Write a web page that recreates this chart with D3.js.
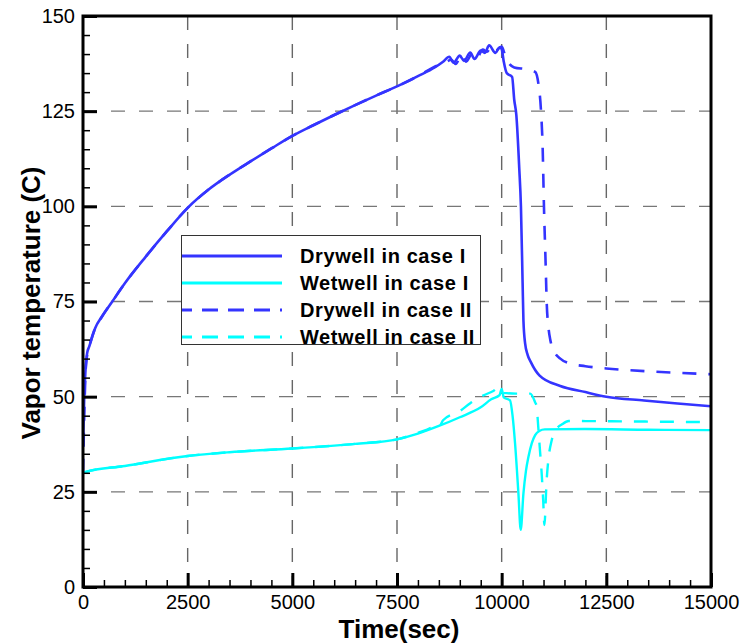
<!DOCTYPE html>
<meta charset="utf-8">
<script src="https://d3js.org/d3.v7.min.js"></script>
<style>
  body { margin: 0; background: #fff; }
  text { font-family: "Liberation Sans", Arial, sans-serif; }
</style>
<div id="chart"></div>
<script>

var width = 745, height = 644;
var margin = {top: 16, right: 34, bottom: 57, left: 83};

// Data: [time (sec), vapor temperature (C)]
var dryCase1 = [
  [0,37],[30,50],[60,57],[100,61.5],[150,63.2],[290,68],[450,71],[700,75],[1000,79.8],[1500,86.8],
  [2000,93.4],[2500,99.6],[3000,104.4],[3500,108.3],[4000,111.8],[4500,115.2],[5000,118.5],[5500,121.3],
  [6000,124],[6500,126.6],[7000,129.1],[7500,131.5],[8000,134.2],[8400,136.5],[8600,138],
  [8750,139.3],[8850,137.7],[9000,139.6],[9100,138.2],[9250,140.4],[9350,138.7],[9500,140.9],
  [9600,140.3],[9700,142.3],[9850,140.3],[9950,141.8],[10000,141.3],[10050,138],[10120,135],
  [10250,134],[10300,128],[10350,124],[10420,110],[10460,100],[10500,80],[10520,70],[10560,64],
  [10620,61],[10700,59],[10900,55.6],[11400,52.8],[12000,51.2],[12500,50],[13400,49],[14200,48.2],
  [15000,47.5]
];
var wetCase1 = [
  [0,30],[50,30.2],[1000,31.8],[2500,34.4],[3500,35.4],[5000,36.4],[6500,37.6],[7500,38.8],
  [8000,40.3],[8500,42.3],[9000,44.6],[9500,47.2],[9750,49.3],[9950,50.4],[10000,52],
  [10050,49.8],[10200,49],[10260,45],[10320,37.7],[10400,24.6],[10455,15],[10520,24.6],
  [10580,30.5],[10640,34.2],[10720,37.8],[10800,39.9],[10900,41],[11030,41.4],[12000,41.5],
  [13500,41.3],[15000,41.2]
];
var dryCase2 = [
  [0,30],[30,45],[60,56],[100,61],[150,63.2],[290,68],[450,71],[700,75],[1000,79.8],[1500,86.8],
  [2000,93.4],[2500,99.6],[3000,104.4],[3500,108.3],[4000,111.8],[4500,115.2],[5000,118.5],[5500,121.3],
  [6000,124],[6500,126.6],[7000,129.1],[7500,131.5],[8000,134.2],[8400,136.7],[8650,137.8],
  [8800,138.5],[8900,137.4],[9050,139.9],[9150,138],[9300,140.2],[9400,138.8],[9550,141.2],
  [9650,140.6],[9750,142],[9850,140.8],[10000,142],[10100,139],[10300,136.5],[10600,136],
  [10800,135.3],[10880,132],[10940,125],[10980,115],[11010,100],[11050,85],[11075,75],[11120,68],
  [11160,65],[11250,62],[11400,60],[11600,58.8],[12000,58],[12500,57.4],[13600,56.6],[15000,55.9]
];
var wetCase2 = [
  [0,30],[50,30.2],[1000,31.8],[2500,34.4],[3500,35.4],[5000,36.4],[6500,37.6],[7500,38.8],
  [8000,40.5],[8350,42.1],[8450,43],[8520,42.4],[8600,43.8],[9000,46.2],[9250,48.3],
  [9520,50.1],[9800,51.5],[9950,52.5],[10050,51],[10350,50.8],[10680,50.8],[10800,48.5],
  [10840,47.3],[10860,44.2],[10915,35.9],[10956,29.8],[10995,22],[11020,16.3],[11074,28],
  [11114,33.3],[11194,38.5],[11274,40.9],[11450,42.8],[11600,43.6],[13000,43.5],[15000,43.3]
];

var seriesNames = ["Drywell in case I", "Wetwell in case I", "Drywell in case II", "Wetwell in case II"];
var xTicks = [0, 2500, 5000, 7500, 10000, 12500, 15000];
var yTicks = [0, 25, 50, 75, 100, 125, 150];

var blue = "#3434ff", cyan = "#00ffff";

var series = [
  {name: seriesNames[0], data: dryCase1, color: blue, dash: null, w: 2.6},
  {name: seriesNames[1], data: wetCase1, color: cyan, dash: null, w: 2.4},
  {name: seriesNames[2], data: dryCase2, color: blue, dash: "14,12", w: 2.6},
  {name: seriesNames[3], data: wetCase2, color: cyan, dash: "14,12", w: 2.4}
];

var svg = d3.select("#chart")
  .append("svg")
  .attr("width", width)
  .attr("height", height);

var x = d3.scaleLinear().domain([0, 15000]).range([margin.left, width - margin.right]);
var y = d3.scaleLinear().domain([0, 150]).range([height - margin.bottom, margin.top]);

// grid
svg.append("g")
  .selectAll("line")
  .data(xTicks.slice(1, -1))
  .join("line")
  .attr("x1", d => x(d)).attr("x2", d => x(d))
  .attr("y1", y(150)).attr("y2", y(0))
  .attr("stroke", "#666")
  .attr("stroke-width", 1.4)
  .attr("stroke-dasharray", "14,14");

svg.append("g")
  .selectAll("line")
  .data(yTicks.slice(1, -1))
  .join("line")
  .attr("y1", d => y(d)).attr("y2", d => y(d))
  .attr("x1", x(0)).attr("x2", x(15000))
  .attr("stroke", "#777")
  .attr("stroke-width", 1.4)
  .attr("stroke-dasharray", "14,14");

// curves
svg.append("clipPath").attr("id", "clip")
  .append("rect")
  .attr("x", x(0)).attr("y", y(150))
  .attr("width", x(15000) - x(0)).attr("height", y(0) - y(150));

var line = d3.line()
  .curve(d3.curveMonotoneX)
  .x(d => x(d[0]))
  .y(d => y(d[1]));

svg.append("g")
  .attr("clip-path", "url(#clip)")
  .selectAll("path")
  .data(series)
  .join("path")
  .attr("d", d => line(d.data))
  .attr("fill", "none")
  .attr("stroke", d => d.color)
  .attr("stroke-width", d => d.w)
  .attr("stroke-dasharray", d => d.dash)
  .attr("stroke-linejoin", "round");

// axes (ticks inward, left and bottom only)
var xAxis = svg.append("g")
  .attr("transform", "translate(0," + y(0) + ")")
  .call(d3.axisBottom(x).tickValues(xTicks).tickSize(-14).tickPadding(20).tickFormat(d3.format("d")));
var yAxis = svg.append("g")
  .attr("transform", "translate(" + x(0) + ",0)")
  .call(d3.axisLeft(y).tickValues(yTicks).tickSize(-14).tickPadding(8));

[xAxis, yAxis].forEach(function(a) {
  a.select(".domain").remove();
  a.selectAll("line").attr("stroke", "#000").attr("stroke-width", 3);
  a.selectAll("text").style("font-size", "20px").attr("fill", "#000");
});
xAxis.selectAll("text").attr("dy", "0.71em").attr("y", 8);

svg.append("g")
  .attr("transform", "translate(0," + y(0) + ")")
  .call(d3.axisBottom(x).tickValues(d3.range(500, 15000, 500).filter(d => d % 2500)).tickSize(-7).tickFormat(""))
  .call(g => g.select(".domain").remove())
  .selectAll("line").attr("stroke", "#000").attr("stroke-width", 1.5);

svg.append("g")
  .attr("transform", "translate(" + x(0) + ",0)")
  .call(d3.axisLeft(y).tickValues(d3.range(5, 150, 5).filter(d => d % 25)).tickSize(-7).tickFormat(""))
  .call(g => g.select(".domain").remove())
  .selectAll("line").attr("stroke", "#000").attr("stroke-width", 1.5);

// frame
svg.append("rect")
  .attr("x", x(0)).attr("y", y(150))
  .attr("width", x(15000) - x(0)).attr("height", y(0) - y(150))
  .attr("fill", "none")
  .attr("stroke", "#000")
  .attr("stroke-width", 3);

// axis titles
svg.append("text")
  .attr("x", (x(0) + x(15000)) / 2 + 2)
  .attr("y", 638)
  .attr("text-anchor", "middle")
  .style("font-size", "26px")
  .style("font-weight", "bold")
  .text("Time(sec)");

svg.append("text")
  .attr("transform", "translate(40,303) rotate(-90)")
  .attr("text-anchor", "middle")
  .style("font-size", "26px")
  .style("font-weight", "bold")
  .text("Vapor temperature (C)");

// legend
var legend = svg.append("g");
legend.append("rect")
  .attr("x", 181.5).attr("y", 235.5)
  .attr("width", 299).attr("height", 109)
  .attr("fill", "#fff")
  .attr("stroke", "#333")
  .attr("stroke-width", 1);

var rows = legend.selectAll("g.row")
  .data(series)
  .join("g")
  .attr("class", "row")
  .attr("transform", (d, i) => "translate(0," + (256 + i * 27) + ")");

rows.append("line")
  .attr("x1", 182).attr("x2", 282)
  .attr("stroke", d => d.color)
  .attr("stroke-width", 3)
  .attr("stroke-dasharray", d => d.dash ? "16,10" : null)
  .attr("stroke-dashoffset", d => d.dash ? 6 : null);

rows.append("text")
  .attr("x", 300)
  .attr("dy", "0.36em")
  .style("font-size", "20px")
  .style("font-weight", "bold")
  .style("letter-spacing", "0.6px")
  .text(d => d.name);

</script>
